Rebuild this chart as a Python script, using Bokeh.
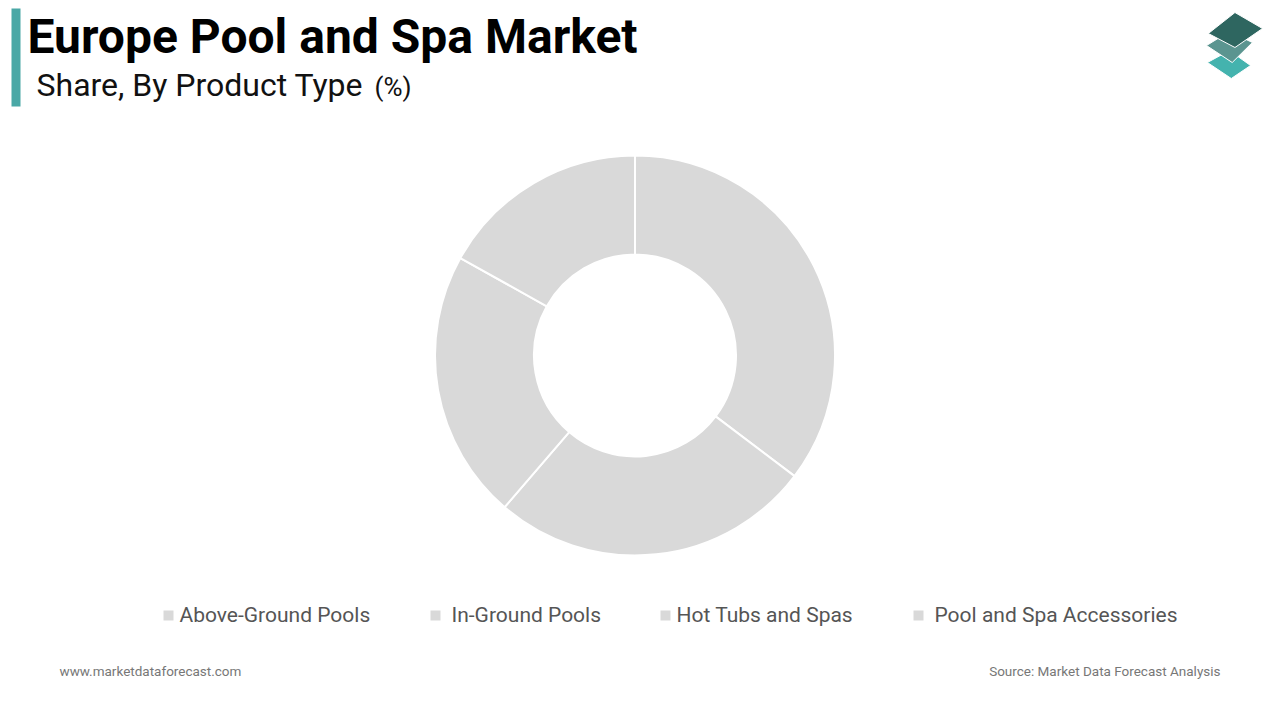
import numpy as np
from bokeh.plotting import figure
from bokeh.models import Range1d, ColumnDataSource
from bokeh.core.properties import value
from bokeh.embed import file_html
from bokeh.resources import INLINE

# ---- data ----
categories = ["Above-Ground Pools", "In-Ground Pools", "Hot Tubs and Spas", "Pool and Spa Accessories"]
shares = [35.3, 26.0, 21.8, 16.9]
slice_colors = ["#d9d9d9", "#d9d9d9", "#d9d9d9", "#d9d9d9"]
title_text = "Europe Pool and Spa Market"
subtitle_text = "Share, By Product Type"
subtitle_unit = "(%)"
footer_left = "www.marketdataforecast.com"
footer_right = "Source: Market Data Forecast Analysis"

W, H = 1264, 704
def sx(x):  # screen px -> data x
    return x
def sy(y):  # screen px -> data y
    return H - y

p = figure(width=W, height=H, output_backend="svg", toolbar_location=None,
           x_range=Range1d(0, W), y_range=Range1d(0, H), min_border=0)
p.axis.visible = False
p.grid.visible = False
p.outline_line_color = None
p.background_fill_color = "white"
p.border_fill_color = "white"

# ---- donut ----
vals = np.array(shares, dtype=float)
frac = vals / vals.sum()
cum = np.concatenate([[0.0], np.cumsum(frac)])
start = np.pi / 2 - cum[:-1] * 2 * np.pi
end = np.pi / 2 - cum[1:] * 2 * np.pi
src = ColumnDataSource(dict(x=[sx(634.5)] * len(vals), y=[sy(355)] * len(vals),
                            start=start, end=end, color=slice_colors))
p.annular_wedge(x="x", y="y", inner_radius=101, outer_radius=200,
                start_angle="start", end_angle="end", direction="clock",
                fill_color="color", line_color="white", line_width=2, source=src)

# ---- title block ----
p.quad(left=sx(11), right=sx(20), top=sy(8), bottom=sy(106), fill_color="#4aa8a6", line_color=None)
p.text(x=[sx(27)], y=[sy(36)], text=[title_text], text_font=value("Roboto"),
       text_font_style="bold", text_font_size="48px", text_baseline="middle",
       text_align="left", text_color="#000000")
p.text(x=[sx(36)], y=[sy(84)], text=[subtitle_text], text_font=value("Roboto"),
       text_font_size="32px", text_baseline="middle", text_align="left", text_color="#111111")
p.text(x=[sx(374)], y=[sy(86)], text=[subtitle_unit], text_font=value("Roboto"),
       text_font_size="26px", text_baseline="middle", text_align="left", text_color="#111111")

# ---- logo (squeezed slightly to stay inside the figure) ----
def lx(x):
    return sx(1206 + (x - 1212) * 56.0 / 61.0)
logo_xs = [
    [lx(1237), lx(1260), lx(1239), lx(1213)],
    [lx(1237), lx(1262), lx(1240), lx(1212)],
    [lx(1243), lx(1273), lx(1243), lx(1214)],
]
logo_ys = [
    [sy(50), sy(65), sy(78), sy(62)],
    [sy(31), sy(42), sy(62), sy(45)],
    [sy(12), sy(28), sy(47), sy(33)],
]
p.patches(xs=logo_xs, ys=logo_ys, fill_color=["#44b3ae", "#5b9590", "#2e6660"],
          line_color="white", line_width=1)

# ---- legend ----
leg_sq_x = [168, 435, 665, 918]
leg_tx_x = [179, 451, 676, 934]
for i, c in enumerate(categories):
    p.rect(x=[sx(leg_sq_x[i])], y=[sy(615)], width=10, height=10,
           fill_color=slice_colors[i], line_color=None)
    p.text(x=[sx(leg_tx_x[i])], y=[sy(614)], text=[c], text_font=value("Roboto"),
           text_font_size="21px", text_baseline="middle", text_align="left",
           text_color="#555555")

# ---- footer ----
p.text(x=[sx(59)], y=[sy(670)], text=[footer_left], text_font=value("Roboto"),
       text_font_size="13.5px", text_baseline="middle", text_align="left", text_color="#777777")
p.text(x=[sx(1220)], y=[sy(670)], text=[footer_right], text_font=value("Roboto"),
       text_font_size="13.5px", text_baseline="middle", text_align="right", text_color="#777777")

open("out.html", "w").write(file_html(p, INLINE))
